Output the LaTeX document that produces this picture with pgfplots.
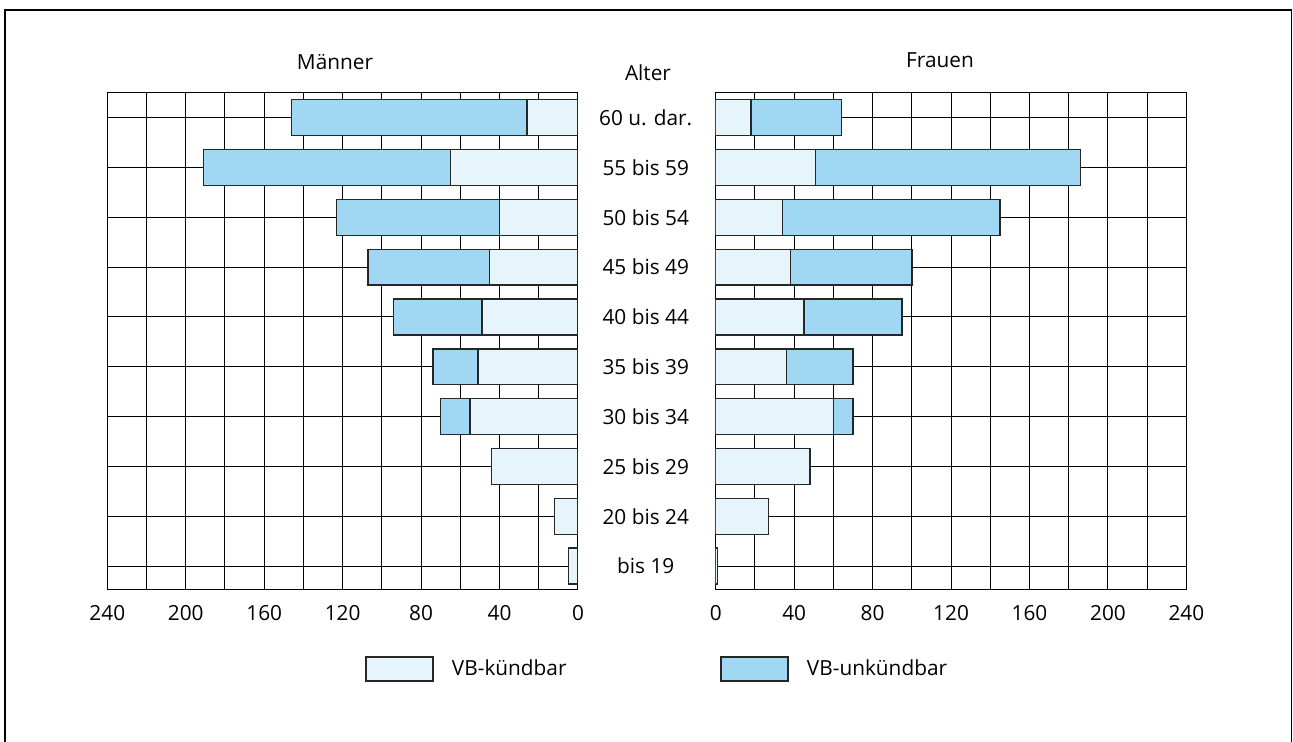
\documentclass[border=0pt]{standalone}
\usepackage{fontspec}
\setmainfont{Open Sans}
\usepackage{pgfplots}
\pgfplotsset{compat=1.18}
\definecolor{lightb}{RGB}{230,244,252}
\definecolor{darkb}{RGB}{160,216,243}
\begin{document}
\fontsize{15.6pt}{18pt}\selectfont
\begin{tikzpicture}
\useasboundingbox (0,0) rectangle (969.75pt,556.5pt);
\draw[line width=1pt] (3.75pt,0) -- (3.75pt,549pt) -- (968.6pt,549pt) -- (968.6pt,0);
\pgfplotsset{
 pyr/.style={
  scale only axis, width=353pt, height=373.3pt,
  xbar stacked, bar width=0.72,
  xmin=0, xmax=240, ymin=-0.48, ymax=9.51,
  xtick={0,40,...,240}, minor xtick={20,60,...,220},
  ytick={0,...,9},
  grid=both,
  major grid style={black, line width=0.75pt},
  minor grid style={black, line width=0.75pt},
  axis line style={black, line width=0.75pt},
  tick style={draw=none},
  xticklabel style={yshift=-6pt},
  /pgf/number format/assume math mode=true,
  ticklabel style={font=\fontsize{15.6pt}{18pt}\selectfont},
  extra x ticks={0}, extra x tick labels={},
  extra x tick style={grid style={black, line width=1.6pt}},
  legend image code/.code={\draw[##1] (0pt,-9pt) rectangle (50.25pt,9pt); \path (62pt,0pt);},
  legend style={draw=none, fill=none, inner sep=0pt, anchor=west,
    font=\fontsize{15.6pt}{18pt}\selectfont},
 },
 barK/.style={fill=lightb, draw=black!85, line width=1pt},
 barU/.style={fill=darkb, draw=black!85, line width=1pt},
}
% Maenner
\begin{axis}[pyr, at={(80.5pt,114pt)}, anchor=south west, x dir=reverse,
  yticklabels={}, legend style={at={(0.5475,-0.1587)}}]
\addplot[barK] coordinates {(5,0) (12,1) (44,2) (55,3) (51,4) (49,5) (45,6) (40,7) (65,8) (26,9)};
\addlegendentry{VB-kündbar}
\addplot[barU] coordinates {(0,0) (0,1) (0,2) (15,3) (23,4) (45,5) (62,6) (83,7) (126,8) (120,9)};
\end{axis}
% Frauen
\begin{axis}[pyr, at={(536.8pt,114pt)}, anchor=south west,
  yticklabels={bis 19, 20 bis 24, 25 bis 29, 30 bis 34, 35 bis 39, 40 bis 44, 45 bis 49, 50 bis 54, 55 bis 59, 60 u. dar.},
  yticklabel style={anchor=center, xshift=-52.5pt},
  legend style={at={(0.0091,-0.1587)}}]
\addplot[barK, forget plot] coordinates {(1,0) (27,1) (48,2) (60,3) (36,4) (45,5) (38,6) (34,7) (51,8) (18,9)};
\addplot[barU] coordinates {(0,0) (0,1) (0,2) (10,3) (34,4) (50,5) (62,6) (111,7) (135,8) (46,9)};
\addlegendentry{VB-unkündbar}
\end{axis}
\node at (251.25pt,510pt) {Männer};
\node at (486pt,501.75pt) {Alter};
\node at (705pt,511.5pt) {Frauen};
\end{tikzpicture}
\end{document}
